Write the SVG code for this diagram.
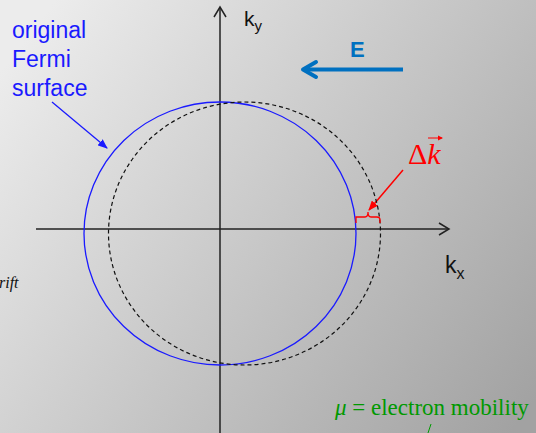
<svg xmlns="http://www.w3.org/2000/svg" width="536" height="433" viewBox="0 0 536 433">
<defs>
<linearGradient id="bg" gradientUnits="userSpaceOnUse" x1="40" y1="20" x2="536" y2="400">
<stop offset="0" stop-color="#ececec"/>
<stop offset="1" stop-color="#a2a2a2"/>
</linearGradient>
<marker id="ahBlue" markerWidth="10" markerHeight="8" refX="9" refY="4" orient="auto" markerUnits="userSpaceOnUse">
<path d="M0,0 L10,4 L0,8 Z" fill="#1a1aff"/>
</marker>
<marker id="ahRed" markerWidth="10" markerHeight="8" refX="9" refY="4" orient="auto" markerUnits="userSpaceOnUse">
<path d="M0,0 L10,4 L0,8 Z" fill="#ff0000"/>
</marker>
</defs>
<style>
.axis{stroke:#222;stroke-width:1.5;fill:none}
.sans{font-family:"Liberation Sans",Arial,sans-serif}
.serif{font-family:"Liberation Serif","Times New Roman",serif}
</style>
<rect width="536" height="433" fill="url(#bg)"/>
<g id="connectors">
<line class="axis" x1="220" y1="433" x2="220" y2="7"/>
<polyline class="axis" points="214,17 220,7 226,17"/>
<line class="axis" x1="36" y1="229" x2="449" y2="229"/>
<polyline class="axis" points="439,223 449,229 439,235"/>
<line x1="52" y1="102" x2="107" y2="148" stroke="#1a1aff" stroke-width="1.3" marker-end="url(#ahBlue)"/>
<line x1="403" y1="170" x2="369" y2="210" stroke="#ff0000" stroke-width="1.5" marker-end="url(#ahRed)"/>
<line x1="403" y1="69.5" x2="304" y2="69.5" stroke="#0070c0" stroke-width="4"/>
<polyline points="316,62 303,69.5 316,77" fill="none" stroke="#0070c0" stroke-width="4" stroke-linecap="round" stroke-linejoin="round"/>
<line x1="431" y1="424" x2="428" y2="433" stroke="#009900" stroke-width="1"/>
</g>
<g id="fermi-original">
<ellipse cx="220" cy="233.5" rx="136" ry="131.5" fill="none" stroke="#1a1aff" stroke-width="1.3"/>
</g>
<g id="fermi-shifted">
<ellipse cx="244.5" cy="233.5" rx="136" ry="131.5" fill="none" stroke="#111" stroke-width="1.2" stroke-dasharray="4,3"/>
</g>
<g id="delta-k">
<path d="M356,223 V217 H365 Q368,217 368,212 Q368,217 371,217 H377 Q380,217 380,220 V223" fill="none" stroke="#ff0000" stroke-width="1.3"/>
<text x="408" y="164" class="serif" font-size="30" fill="#ff0000">Δ<tspan font-style="italic">k</tspan></text>
<line x1="428" y1="138" x2="442" y2="138" stroke="#ff0000" stroke-width="1"/>
<path d="M438,135.5 L443,138 L438,140.5 Z" fill="#ff0000"/>
</g>
<g id="label-fermi">
<text class="sans" font-size="23" fill="#1a1aff"><tspan x="12" y="38">original</tspan><tspan x="12" y="67">Fermi</tspan><tspan x="12" y="96">surface</tspan></text>
</g>
<g id="label-E">
<text x="350" y="57" class="sans" font-size="22" font-weight="bold" fill="#0070c0">E</text>
</g>
<g id="label-ky">
<text x="244" y="26" class="sans" font-size="21" fill="#111">k<tspan font-size="15" dy="5">y</tspan></text>
</g>
<g id="label-kx">
<text x="445" y="273" class="sans" font-size="23" fill="#111">k<tspan font-size="16" dy="6">x</tspan></text>
</g>
<g id="label-drift">
<text x="-1" y="288" class="serif" font-size="16" font-style="italic" fill="#111">rift</text>
</g>
<g id="label-mu">
<text x="335" y="415" class="serif" font-size="23" fill="#009900"><tspan font-style="italic">μ</tspan> = electron mobility</text>
</g>
</svg>
